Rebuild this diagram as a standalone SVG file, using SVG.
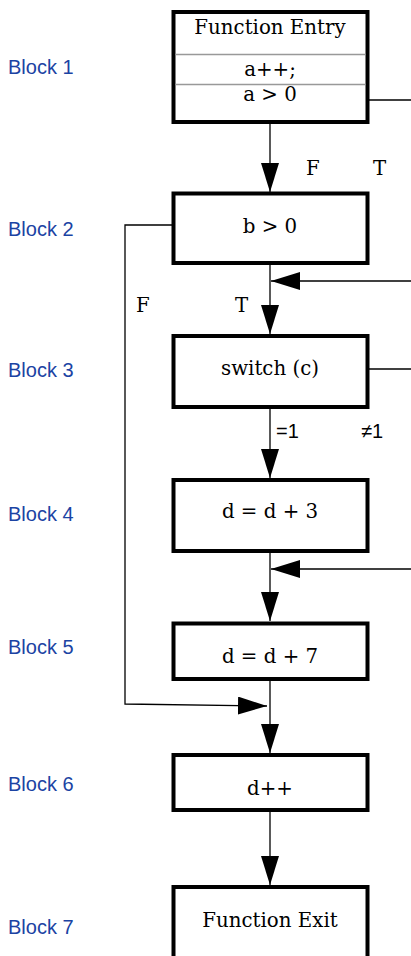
<svg xmlns="http://www.w3.org/2000/svg" width="411" height="956" viewBox="0 0 411 956">
<style>
.box{fill:#fff;stroke:#000;stroke-width:4}
.sep{stroke:#999;stroke-width:1.4}
.t{font-family:"DejaVu Serif",serif;font-size:19.8px;fill:#000;text-anchor:middle}
.lb{font-family:"DejaVu Serif",serif;font-size:19.8px;fill:#000}
.ls{font-family:"Liberation Sans",Arial,sans-serif;font-size:20px;fill:#000}
.bl{font-family:"Liberation Sans",Arial,sans-serif;font-size:20px;fill:#1b43a3}
.c{fill:none;stroke:#000;stroke-width:1.3}
</style>
<defs>
<marker id="ah" markerUnits="userSpaceOnUse" markerWidth="30" markerHeight="20" refX="29" refY="9" orient="auto">
<polygon points="0,0 29,9 0,18" fill="#000"/>
</marker>
</defs>
<g id="labels">
<text class="bl" x="8" y="74">Block 1</text>
<text class="bl" x="8" y="236">Block 2</text>
<text class="bl" x="8" y="377">Block 3</text>
<text class="bl" x="8" y="521">Block 4</text>
<text class="bl" x="8" y="654">Block 5</text>
<text class="bl" x="8" y="791">Block 6</text>
<text class="bl" x="8" y="934">Block 7</text>
</g>
<g id="connectors">
<path class="c" d="M270,124 V192" marker-end="url(#ah)"/>
<path class="c" d="M369,100 H411"/>
<path class="c" d="M172,225 H125 V704 L267,706" marker-end="url(#ah)"/>
<path class="c" d="M270,265 V334" marker-end="url(#ah)"/>
<path class="c" d="M411,281 H271" marker-end="url(#ah)"/>
<path class="c" d="M369,369 H411"/>
<path class="c" d="M270,409 V478" marker-end="url(#ah)"/>
<path class="c" d="M411,569 H271" marker-end="url(#ah)"/>
<path class="c" d="M270,553 V621" marker-end="url(#ah)"/>
<path class="c" d="M270,681 V753" marker-end="url(#ah)"/>
<path class="c" d="M270,812 V885" marker-end="url(#ah)"/>
<text class="lb" x="306" y="175">F</text>
<text class="lb" x="373" y="175">T</text>
<text class="lb" x="136" y="312">F</text>
<text class="lb" x="235" y="312">T</text>
<text class="ls" x="276" y="438">=1</text>
<text class="ls" x="361" y="438">≠1</text>
</g>
<g id="block1">
<rect class="box" x="173.5" y="12" width="194" height="110"/>
<line class="sep" x1="175.5" y1="54.5" x2="365.5" y2="54.5"/>
<line class="sep" x1="175.5" y1="84.5" x2="365.5" y2="84.5"/>
<text class="t" x="270" y="34">Function Entry</text>
<text class="t" x="270" y="76">a++;</text>
<text class="t" x="270" y="101">a &gt; 0</text>
</g>
<g id="block2">
<rect class="box" x="173.5" y="193.5" width="194" height="69.5"/>
<text class="t" x="270" y="233">b &gt; 0</text>
</g>
<g id="block3">
<rect class="box" x="173.5" y="336" width="194" height="71"/>
<text class="t" x="270" y="375">switch (c)</text>
</g>
<g id="block4">
<rect class="box" x="173.5" y="480" width="194" height="71"/>
<text class="t" x="270" y="518">d = d + 3</text>
</g>
<g id="block5">
<rect class="box" x="173.5" y="623.5" width="194" height="55.5"/>
<text class="t" x="270" y="663">d = d + 7</text>
</g>
<g id="block6">
<rect class="box" x="173.5" y="755" width="194" height="55"/>
<text class="t" x="270" y="795">d++</text>
</g>
<g id="block7">
<rect class="box" x="173.5" y="887" width="194" height="100"/>
<text class="t" x="270" y="927">Function Exit</text>
</g>
</svg>
